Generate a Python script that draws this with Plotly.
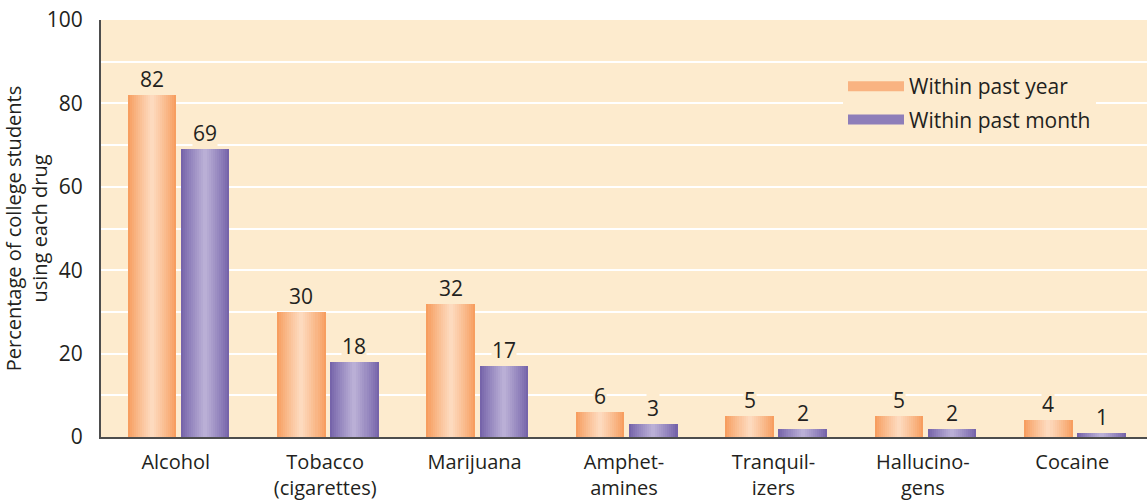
import plotly.graph_objects as go

categories = ["Alcohol", "Tobacco<br>(cigarettes)", "Marijuana", "Amphet-<br>amines",
              "Tranquil-<br>izers", "Hallucino-<br>gens", "Cocaine"]
past_year = [82, 30, 32, 6, 5, 5, 4]
past_month = [69, 18, 17, 3, 2, 2, 1]
series_names = ["Within past year", "Within past month"]
y_ticks = [0, 20, 40, 60, 80, 100]

BG = "#FDEBCE"
FONT = "Open Sans, Noto Sans, sans-serif"
TXT = "#231F20"

orange_edge = (247, 158, 96)
orange_center = (253, 218, 190)
purple_edge = (118, 100, 170)
purple_center = (186, 175, 214)

def mix(a, b, t):
    return "rgb(%d,%d,%d)" % tuple(round(a[i] + (b[i] - a[i]) * t) for i in range(3))

x_idx = list(range(len(categories)))
bar_w = 0.325
offsets = [-0.322, 0.033]
series = [past_year, past_month]
edges = [orange_edge, purple_edge]
centers = [orange_center, purple_center]

fig = go.Figure()
N = 12
for s in range(2):
    for k in range(N):
        frac = k / N
        w = bar_w * (1 - frac)
        off = offsets[s] + (bar_w - w) / 2
        t = (k / (N - 1)) ** 0.9
        fig.add_trace(go.Bar(
            x=x_idx, y=series[s], width=w, offset=off,
            marker=dict(color=mix(edges[s], centers[s], t), line=dict(width=0)),
            showlegend=False, hoverinfo="skip"))
    # legend entry
    fig.add_trace(go.Scatter(
        x=[None], y=[None], mode="lines", name=series_names[s],
        legendgroup=series_names[s],
        line=dict(color=mix(edges[s], centers[s], 0.35), width=13)))

annotations = []
for s in range(2):
    for i, v in enumerate(series[s]):
        annotations.append(dict(
            x=i + offsets[s] + bar_w / 2, y=v, xref="x", yref="y",
            text=str(v), showarrow=False, yanchor="bottom", yshift=1,
            font=dict(family=FONT, size=21, color=TXT),
            bgcolor=BG, borderpad=0))

fig.update_layout(
    width=1147, height=502,
    margin=dict(l=101, r=0, t=20, b=65),
    paper_bgcolor="white", plot_bgcolor=BG,
    barmode="overlay", bargap=0,
    font=dict(family=FONT, size=21, color=TXT),
    annotations=annotations,
    legend=dict(x=(843 - 101) / 1046, y=(437 - 66) / 417, xanchor="left", yanchor="top",
                bgcolor=BG, font=dict(size=21, family=FONT, color=TXT),
                itemwidth=56, tracegroupgap=3),
    xaxis=dict(tickvals=x_idx, ticktext=categories, range=[-0.5, 6.5],
               showline=True, linecolor="#4D4D4D", linewidth=2, automargin=False,
               ticks="", showgrid=False, zeroline=False, ticklabelstandoff=6,
               tickfont=dict(size=20, family=FONT, color=TXT)),
    yaxis=dict(range=[0, 100], tickvals=y_ticks, showline=True, automargin=False,
               linecolor="#4D4D4D", linewidth=2, ticks="",
               showgrid=True, gridcolor="white", gridwidth=2,
               minor=dict(dtick=10, showgrid=True, gridcolor="white", gridwidth=2),
               zeroline=False, ticklabelstandoff=12,
               tickfont=dict(size=21, family=FONT, color=TXT),
               title=dict(text="Percentage of college students<br>using each drug",
                          font=dict(size=20, family=FONT, color=TXT), standoff=0)),
)

fig.write_html("out.html")
